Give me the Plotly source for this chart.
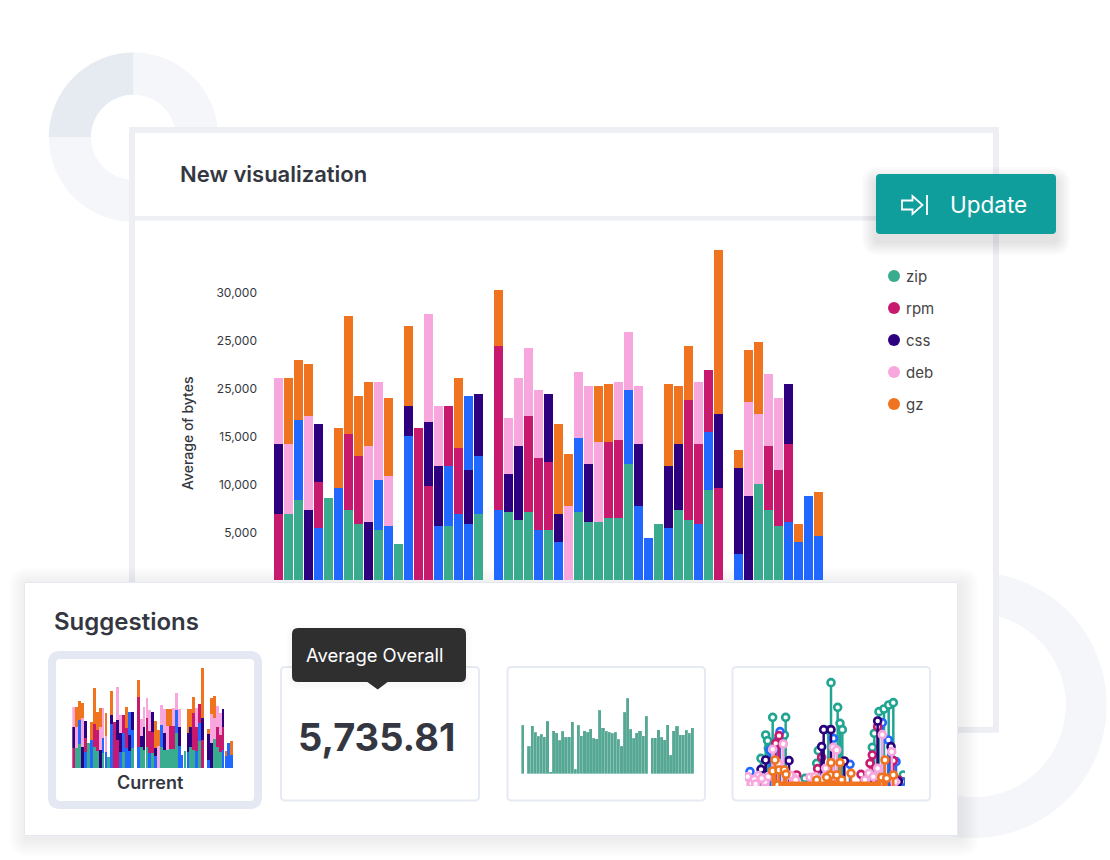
import numpy as np
import plotly.graph_objects as go

WIDTH = 1110
HEIGHT = 860

# stacked chart, one value per bucket (55 buckets, two of them empty)
zip_values = [0, 6875, 8333, 0, 0, 8542, 0, 7292, 5833, 0, 5208, 0, 3750, 0, 0, 0, 0, 5625, 0, 0, 6875,
              0, 0, 7083, 6250, 7083, 0, 5208, 0, 0, 7083, 6042, 6042, 6458, 6458, 12083, 0, 0, 5833, 0,
              7292, 6250, 0, 9375, 0, 0, 0, 0, 10000, 7292, 5625, 0, 0, 0, 0]
other_values = [0, 0, 8333, 0, 5417, 0, 9583, 0, 0, 0, 5208, 5625, 0, 15000, 0, 0, 5625, 6250, 6875, 5833, 6042,
                0, 7292, 0, 0, 0, 5208, 0, 3958, 0, 7708, 0, 0, 0, 0, 7708, 7708, 4375, 0, 5417,
                0, 0, 5833, 6042, 0, 0, 2708, 0, 0, 0, 0, 6042, 3958, 8750, 4583]
rpm_values = [6875, 0, 0, 0, 4792, 0, 0, 7917, 7083, 0, 0, 0, 0, 0, 15833, 9792, 0, 6250, 6875, 0, 0,
              0, 17083, 0, 0, 10000, 7500, 7083, 0, 0, 0, 0, 0, 7917, 8125, 0, 0, 0, 0, 0,
              0, 12500, 8333, 6458, 9583, 0, 0, 0, 0, 6667, 5833, 8125, 0, 0, 0]
css_values = [7292, 0, 0, 7292, 6042, 0, 0, 0, 0, 6042, 0, 0, 0, 3125, 0, 6667, 6250, 0, 0, 5625, 6458,
              0, 0, 3958, 7708, 0, 0, 7083, 2917, 0, 0, 6042, 0, 0, 0, 0, 6458, 0, 0, 6458,
              6875, 0, 0, 0, 7708, 0, 8958, 8750, 0, 0, 0, 6250, 0, 0, 0]
other_top_values = [0, 0, 0, 0, 0, 0, 0, 0, 0, 0, 0, 0, 0, 0, 0, 0, 0, 0, 0, 7708, 0,
                    0, 0, 0, 0, 0, 0, 0, 0, 0, 0, 0, 0, 0, 0, 0, 0, 0, 0, 0,
                    0, 0, 0, 0, 0, 0, 0, 0, 0, 0, 0, 0, 0, 0, 0]
deb_values = [6875, 7292, 0, 9792, 0, 0, 0, 0, 0, 7917, 10208, 5208, 0, 0, 0, 11250, 6250, 0, 0, 0, 0,
              0, 0, 5833, 7083, 7083, 7083, 0, 0, 7708, 6875, 8125, 8333, 0, 6042, 6042, 6042, 0, 0, 0,
              0, 0, 6458, 0, 0, 0, 0, 9792, 7292, 7500, 7500, 0, 0, 0, 0]
gz_values = [0, 6875, 6250, 5417, 0, 0, 6250, 12292, 6250, 6667, 0, 8125, 0, 8333, 0, 0, 0, 0, 7292, 0, 0,
             0, 5833, 0, 0, 0, 0, 0, 9375, 5417, 0, 0, 5833, 6042, 0, 0, 0, 0, 0, 8542,
             6042, 5625, 0, 0, 17083, 0, 1875, 5417, 7500, 0, 0, 0, 1875, 0, 4583]
buckets = list(range(len(zip_values)))

tick_values = [5000, 10000, 15000, 20000, 25000, 30000]
tick_labels = ["5,000", "10,000", "15,000", "25,000", "25,000", "30,000"]
legend_names = ["zip", "rpm", "css", "deb", "gz"]

# "average" thumbnail
average_values = [7300, None, 4100, 7200, 6200, 5650, 5900, 5550, 7850, 300, 6450, 6150, 5050, 6350,
                  5450, 5550, 7800, 650, 7250, 5700, 6450, 6250, 6750, 5300, 5250, 9500, 6900, 6350,
                  6250, 6100, 6200, 5200, 4150, 9200, 11300, 6650, 5350, 6150, 6450, 5700, 8600, None,
                  5400, 5400, 6600, 5450, 5100, 7350, 2750, 6450, 7100, 5850, 5850, 6500, 6050, 6900]
average_overall = "5,735.81"

# lollipop thumbnail
lolli_zip_x = [143, 182, 122, 128, 108, 318, 338, 345, 352, 280, 275, 462, 477, 491, 505, 448, 442, 535, 240, 130, 178, 310]
lolli_zip_y = [10300, 10300, 7650, 6800, 4150, 15500, 11800, 9400, 8450, 5300, 3400, 11150, 11550, 12150, 12500, 7900, 5800, 1650, 1150, 5650, 7650, 8400]
lolli_other_x = [165, 75, 135, 375, 472, 490, 513, 325, 530, 160]
lolli_other_y = [8150, 2150, 5400, 3250, 9500, 6900, 3650, 7150, 650, 6900]
lolli_rpm_x = [162, 152, 278, 290, 408, 435, 442, 458, 505, 215, 520]
lolli_rpm_y = [7550, 6400, 2600, 4300, 1750, 3400, 4650, 8900, 3800, 1650, 900]
lolli_css_x = [122, 108, 192, 296, 318, 290, 358, 498, 458, 448, 520]
lolli_css_y = [3900, 2500, 3800, 8450, 8450, 5900, 3750, 5900, 9750, 400, 650]
lolli_deb_x = [68, 100, 175, 143, 325, 335, 302, 472, 500, 458, 432, 205, 255, 160, 120, 80, 300,
               88, 110, 130, 195, 212, 270, 290, 315, 445, 420, 510, 92]
lolli_deb_y = [1400, 1550, 6300, 5500, 5800, 5400, 2650, 7700, 5150, 2650, 1900, 1300, 1300, 3400, 650, 400, 1400,
               1000, 1150, 1400, 1650, 900, 1400, 900, 1400, 1400, 900, 650, 300]
lolli_gz_x = [150, 143, 162, 178, 183, 158, 275, 318, 345, 315, 335, 350, 378, 305, 480, 470, 485, 505, 465, 325]
lolli_gz_y = [3900, 2250, 2400, 2400, 1750, 150, 900, 3500, 3500, 1650, 1650, 900, 1900, 1300, 3900, 1300, 1150, 1650, 300, 150]
lolli_gz_band_x = [160, 470]
lolli_gz_band_y = [300, 300]

ZIP = "#39AB8E"
OTHER = "#2068FF"
RPM = "#C71A6E"
CSS = "#2C007F"
DEB = "#F8A7DE"
GZ = "#F07420"
TEXT = "#343741"
BORDER = "#EDEFF4"
CARD = "#E6EAF3"
FAINT = "#F5F6FA"


def dom_x(left, right):
    return [left / WIDTH, right / WIDTH]


def dom_y(top, bottom):
    return [1 - bottom / HEIGHT, 1 - top / HEIGHT]


def rounded(x0, y0, x1, y1, r):
    return (f"M {x0+r},{y0} L {x1-r},{y0} Q {x1},{y0} {x1},{y0+r} L {x1},{y1-r} Q {x1},{y1} {x1-r},{y1} "
            f"L {x0+r},{y1} Q {x0},{y1} {x0},{y1-r} L {x0},{y0+r} Q {x0},{y0} {x0+r},{y0} Z")


def ring_sector(cx, cy, r_in, r_out, start, end):
    # angles in degrees, clockwise from 12 o'clock
    t = np.radians(np.linspace(start, end, 90))
    outer = [f"{cx + r_out*np.sin(a):.2f},{cy - r_out*np.cos(a):.2f}" for a in t]
    inner = [f"{cx + r_in*np.sin(a):.2f},{cy - r_in*np.cos(a):.2f}" for a in t[::-1]]
    return "M " + " L ".join(outer + inner) + " Z"


def box(path, fill="rgba(0,0,0,0)", line=None, width=0):
    return dict(type="path", path=path, xref="x", yref="y", fillcolor=fill, layer="below",
                line=dict(color=line or "rgba(0,0,0,0)", width=width))


def shadow(x0, y0, x1, y1, r, dx, dy, spread, alpha):
    return [box(rounded(x0 - s + dx, y0 - s + dy, x1 + s + dx, y1 + s + dy, r + s), fill=f"rgba(70,80,105,{alpha})")
            for s in range(spread, 0, -2)]


def note(x, y, text, size, color=TEXT, weight=400, anchor="left", angle=0):
    # annotations carry a small inner padding on the left
    if anchor == "left":
        x -= 2
    return dict(x=x, y=y, xref="x", yref="y", text=text, showarrow=False, xanchor=anchor, yanchor="middle",
                textangle=angle, font=dict(family="Inter", size=size, color=color, weight=weight))


shapes = []
# background donuts
shapes.append(box(ring_sector(133.5, 137.2, 42.5, 84.7, 0, 270), fill=FAINT))
shapes.append(box(ring_sector(133.5, 137.2, 42.5, 84.7, 270, 360), fill="#E6EBF1"))
shapes.append(box(ring_sector(973.7, 705, 92, 133, 0, 360), fill=FAINT))
# visualization panel
shapes.append(box(rounded(132, 130, 996, 729.7, 0), fill="white", line=BORDER, width=6))
shapes.append(box("M 135,218.3 L 993,218.3", line=BORDER, width=4.5))
# suggestions panel
shapes += shadow(24.5, 582.5, 957.5, 835.5, 1, 3, 3, 18, 0.011)
shapes.append(box(rounded(24.5, 582.5, 957.5, 835.5, 1), fill="white", line="#E3E8F2", width=1))
shapes.append(box(rounded(52, 655, 258, 805, 8), fill="white", line="#E3E8F2", width=8))
shapes.append(box(rounded(281, 667, 479, 800.5, 4), fill="white", line=CARD, width=2))
shapes.append(box(rounded(507.5, 667, 705, 800.5, 4), fill="white", line=CARD, width=2))
shapes.append(box(rounded(732.5, 667, 930, 800.5, 4), fill="white", line=CARD, width=2))
# tooltip
shapes += shadow(292, 628, 466, 682, 6, 0, 2, 6, 0.012)
shapes.append(box(rounded(292, 628, 466, 682, 6), fill="#2F2F2F"))
shapes.append(box("M 366,681 L 389,681 L 377.7,689.5 Z", fill="#2F2F2F"))
# update button
shapes += shadow(876, 174, 1056, 234, 4, 0, 7, 14, 0.022)
shapes.append(box(rounded(876, 174, 1056, 234, 4), fill="#0F9E9C"))
shapes.append(box("M 902,200.5 L 912.5,200.5 L 912.5,196 L 922.5,205 L 912.5,214 L 912.5,209.5 L 902,209.5 Z",
                  line="white", width=1.8))
shapes.append(box("M 927,195 L 927,215", line="white", width=1.8))

annotations = [
    note(180, 174, "New visualization", 22, weight=600),
    note(187, 434, "Average of bytes", 14, weight=500, anchor="center", angle=-90),
    note(54, 621.5, "Suggestions", 24, weight=600),
    note(150, 782, "Current", 18, weight=600, anchor="center"),
    note(376, 737, average_overall, 38, weight=700, anchor="center"),
    note(306, 655, "Average Overall", 18.4, color="white"),
    note(950, 204, "Update", 22.5, color="white"),
]
for name, legend_y in zip(legend_names, [276, 308, 340, 372, 404]):
    annotations.append(note(906, legend_y, name, 15, color="#444444"))

fig = go.Figure()

# page-sized subplot, holds the legend dots and all the card shapes
fig.add_trace(go.Scatter(
    x=[894] * 5,
    y=[276, 308, 340, 372, 404],
    mode="markers",
    marker=dict(size=12, color=[ZIP, RPM, CSS, DEB, GZ]),
    hoverinfo="skip",
    showlegend=False,
))

stack = [
    ("zip", zip_values, ZIP),
    ("other", other_values, OTHER),
    ("rpm", rpm_values, RPM),
    ("css", css_values, CSS),
    ("other", other_top_values, OTHER),
    ("deb", deb_values, DEB),
    ("gz", gz_values, GZ),
]
for axis_x, axis_y, bar_width in [("x2", "y2", 0.9), ("x3", "y3", 0.97)]:
    for name, values, color in stack:
        fig.add_trace(go.Bar(x=buckets, y=values, name=name, width=bar_width,
                             marker=dict(color=color, line=dict(width=0)),
                             xaxis=axis_x, yaxis=axis_y, showlegend=False))

fig.add_trace(go.Bar(x=list(range(len(average_values))), y=average_values, width=1,
                     marker=dict(color="#56A894", line=dict(color="rgba(255,255,255,0.3)", width=0.5)),
                     xaxis="x4", yaxis="y4", showlegend=False))

lollipops = [
    ("zip", lolli_zip_x, lolli_zip_y, "#21A592"),
    ("other", lolli_other_x, lolli_other_y, OTHER),
    ("rpm", lolli_rpm_x, lolli_rpm_y, RPM),
    ("css", lolli_css_x, lolli_css_y, CSS),
    ("deb", lolli_deb_x, lolli_deb_y, DEB),
    ("gz", lolli_gz_x, lolli_gz_y, GZ),
]
for name, xs, ys, color in lollipops:
    fig.add_trace(go.Scatter(
        x=xs, y=ys, name=name, mode="markers",
        marker=dict(size=7, color="white", line=dict(color=color, width=2.6)),
        error_y=dict(type="data", symmetric=False, array=[0] * len(ys), arrayminus=ys, width=0, thickness=2.5, color=color),
        xaxis="x5", yaxis="y5", showlegend=False,
    ))
fig.add_trace(go.Scatter(x=lolli_gz_band_x, y=lolli_gz_band_y, mode="lines", line=dict(color=GZ, width=5),
                         xaxis="x5", yaxis="y5", showlegend=False))

hidden = dict(visible=False, fixedrange=True)
fig.update_layout(
    width=WIDTH,
    height=HEIGHT,
    margin=dict(l=0, r=0, t=0, b=0),
    paper_bgcolor="white",
    plot_bgcolor="rgba(0,0,0,0)",
    barmode="stack",
    bargap=0.1,
    showlegend=False,
    font=dict(family="Inter", color=TEXT),
    xaxis=dict(domain=[0, 1], range=[0, WIDTH], **hidden),
    yaxis=dict(domain=[0, 1], range=[HEIGHT, 0], **hidden),
    xaxis2=dict(domain=dom_x(270, 830), range=[-0.85, 55.15], anchor="y2", **hidden),
    yaxis2=dict(domain=dom_y(240, 580), range=[0, 35417], anchor="x2", fixedrange=True, showgrid=False, zeroline=False,
                showline=False, tickvals=tick_values, ticktext=tick_labels, ticks="",
                ticklabelstandoff=12, ticklabelshift=1, tickfont=dict(family="Inter", size=12, color=TEXT)),
    xaxis3=dict(domain=dom_x(72.3, 233.3), range=[-0.5, 54.5], anchor="y3", **hidden),
    yaxis3=dict(domain=dom_y(660, 768), range=[0, 37125], anchor="x3", **hidden),
    xaxis4=dict(domain=dom_x(521.3, 694), range=[-0.5, 55.5], anchor="y4", **hidden),
    yaxis4=dict(domain=dom_y(690, 773.7), range=[0, 12555], anchor="x4", **hidden),
    xaxis5=dict(domain=dom_x(745, 905), range=[60, 540], anchor="y5", **hidden),
    yaxis5=dict(domain=dom_y(670, 786), range=[0, 17400], anchor="x5", **hidden),
    shapes=shapes,
    annotations=annotations,
)

fig.write_html("out.html", config={"displayModeBar": False}, post_script="document.body.style.margin='0';")
